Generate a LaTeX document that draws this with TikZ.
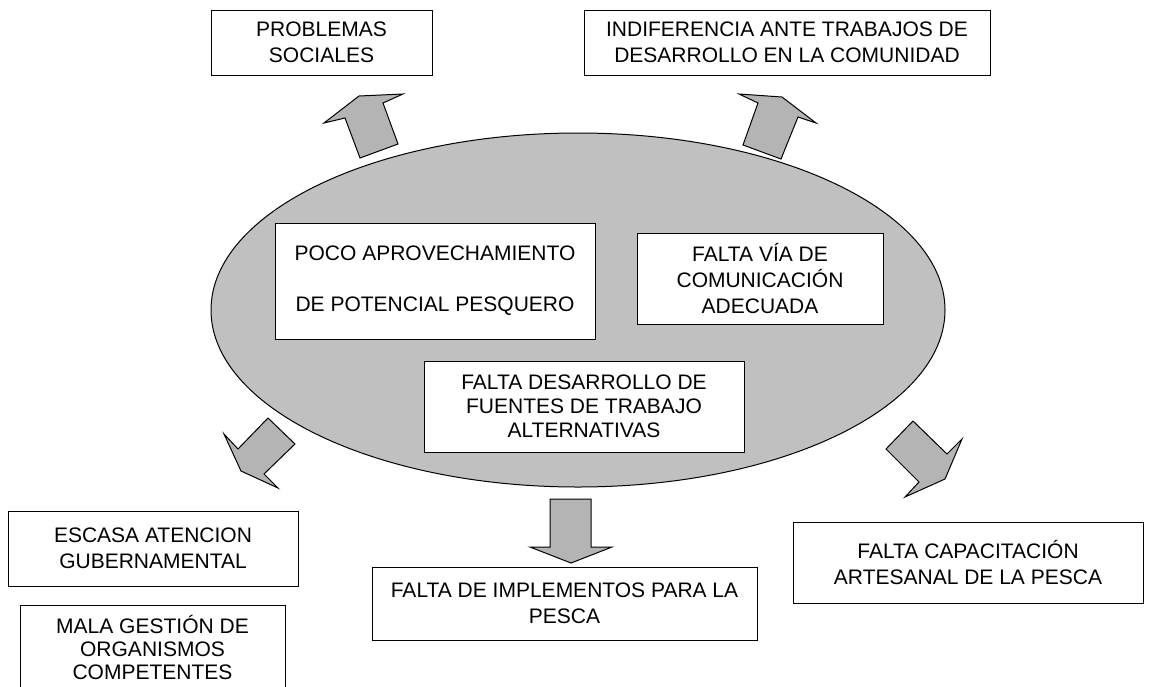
\documentclass[tikz,border=0pt]{standalone}
\usepackage{fontspec}
\setmainfont{Liberation Sans}
\usetikzlibrary{shapes.geometric}
\definecolor{elipsegris}{RGB}{192,192,192}
\definecolor{flechagris}{RGB}{180,180,180}
\tikzset{
  caja/.style={draw, fill=white, line width=1pt, align=center, inner sep=2pt},
  flecha/.style={draw, fill=flechagris, line width=1pt, line join=miter},
}
\begin{document}
\begin{tikzpicture}[x=1pt, y=-1pt, font=\fontsize{21}{26}\selectfont]
        \useasboundingbox (0,0) rectangle (1153,686);
        \clip (0,0) rectangle (1153,686);

        % problem
        \node[draw, fill=elipsegris, ellipse, line width=1pt, inner sep=0pt, minimum width=734, minimum height=354] at (578,310) (problema) {};
        \node[caja, minimum width=320, minimum height=116] at (435,281) (poco) {POCO APROVECHAMIENTO\\[25pt]DE POTENCIAL PESQUERO};
        \node[caja, minimum width=246, minimum height=91] at (760,278.5) (via) {FALTA VÍA DE\\COMUNICACIÓN\\ADECUADA};
        \node[caja, minimum width=320, minimum height=91, font=\fontsize{21}{24}\selectfont] at (584,406.5) (fuentes) {FALTA DESARROLLO DE\\FUENTES DE TRABAJO\\ALTERNATIVAS};

        % effects
        \node[caja, minimum width=221, minimum height=65] at (321.5,42.5) (sociales) {PROBLEMAS\\SOCIALES};
        \node[caja, minimum width=406, minimum height=65] at (787,42.5) (indiferencia) {INDIFERENCIA ANTE TRABAJOS DE\\DESARROLLO EN LA COMUNIDAD};

        % causes
        \node[caja, minimum width=290, minimum height=75] at (153,548.5) (escasa) {ESCASA ATENCION\\GUBERNAMENTAL};
        \node[caja, minimum width=265, minimum height=84, anchor=north, font=\fontsize{21}{23}\selectfont] at (152.5,605) (mala) {MALA GESTIÓN DE\\ORGANISMOS\\COMPETENTES};
        \draw[line width=1pt] (mala.south west) -- (20,700) (mala.south east) -- (285,700);
        \node[caja, minimum width=385, minimum height=73] at (564.5,603.5) (implementos) {FALTA DE IMPLEMENTOS PARA LA\\PESCA};
        \node[caja, minimum width=350, minimum height=81] at (968,562.5) (capacitacion) {FALTA CAPACITACIÓN\\ARTESANAL DE LA PESCA};

        % block arrows
        \draw[flecha] (360,158) -- (345,118) -- (324,123) -- (359,96) -- (403,94) -- (383,103) -- (398,144) -- cycle;
        \draw[flecha] (743,145) -- (758,103) -- (739,94) -- (782,97) -- (816,123) -- (798,117) -- (781,159) -- cycle;
        \draw[flecha] (268,418) -- (295,444) -- (264,474) -- (278,488) -- (241,471) -- (224,434) -- (238,449) -- cycle;
        \draw[flecha] (913,421) -- (886,449) -- (919,482) -- (905,497) -- (945,479) -- (962,439) -- (947,454) -- cycle;
        \draw[flecha] (550,499) -- (591,499) -- (591,547) -- (612,547) -- (571,563) -- (530,547) -- (550,547) -- cycle;
    \end{tikzpicture}
\end{document}
